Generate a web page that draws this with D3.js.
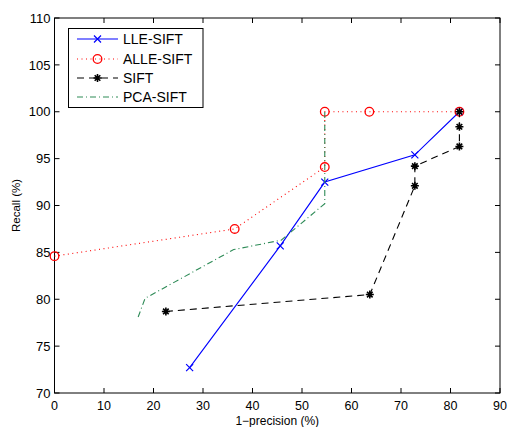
<!DOCTYPE html>
<html><head><meta charset="utf-8">
<script src="https://cdn.jsdelivr.net/npm/d3@7"></script>
<style>body{margin:0;background:#fff}svg{display:block}text{font-family:"Liberation Sans",Arial,sans-serif;}</style>
</head><body><svg id="c" width="509" height="427"></svg>
<script>
const xTicks = [0,10,20,30,40,50,60,70,80,90];
const yTicks = [70,75,80,85,90,95,100,105,110];
const seriesNames = ["LLE-SIFT","ALLE-SIFT","SIFT","PCA-SIFT"];
const lleX = [27.3,45.6,54.6,72.8,81.8];
const lleY = [72.7,85.7,92.5,95.4,100];
const alleX = [0,36.4,54.6,54.6,63.6,81.8];
const alleY = [84.6,87.5,94.1,100,100,100];
const siftX = [22.5,63.7,72.8,72.8,81.8,81.8,81.8];
const siftY = [78.7,80.5,92.1,94.2,96.3,98.4,100];
const pcaX = [16.9,18.3,36.2,45.8,54.6,54.6];
const pcaY = [78.1,80.1,85.3,86.3,90.2,100];

const svg = d3.select("#c");
const L=54.5,R=500,T=18,B=393;
const x = d3.scaleLinear().domain([0,90]).range([L,R]);
const y = d3.scaleLinear().domain([70,110]).range([B,T]);

svg.append("rect").attr("x",L).attr("y",T).attr("width",R-L).attr("height",B-T)
  .attr("fill","none").attr("stroke","#000").attr("stroke-width",1);
const tl=5;
const g = svg.append("g");
xTicks.forEach(t=>{
  g.append("line").attr("x1",x(t)).attr("x2",x(t)).attr("y1",B).attr("y2",B-tl).attr("stroke","#000");
  g.append("line").attr("x1",x(t)).attr("x2",x(t)).attr("y1",T).attr("y2",T+tl).attr("stroke","#000");
  g.append("text").attr("x",x(t)).attr("y",410).attr("text-anchor","middle").attr("font-size",12.5).text(t);
});
yTicks.forEach(t=>{
  g.append("line").attr("x1",L).attr("x2",L+tl).attr("y1",y(t)).attr("y2",y(t)).attr("stroke","#000");
  g.append("line").attr("x1",R).attr("x2",R-tl).attr("y1",y(t)).attr("y2",y(t)).attr("stroke","#000");
  g.append("text").attr("x",L-4).attr("y",y(t)+4.7).attr("text-anchor","end").attr("font-size",13).text(t);
});
svg.append("text").attr("x",x(45)).attr("y",424.5).attr("text-anchor","middle").attr("font-size",12).text("1\u2212precision (%)");
svg.append("text").attr("transform","translate(20,"+((T+B)/2)+") rotate(-90)").attr("text-anchor","middle").attr("font-size",11.5).text("Recall (%)");

const line = d3.line().x(d=>x(d[0])).y(d=>y(d[1]));
const zip=(a,b)=>a.map((v,i)=>[v,b[i]]);
const styles = [
  {xs:lleX,ys:lleY,color:"#0000ff",dash:null,marker:"x"},
  {xs:alleX,ys:alleY,color:"#ff0000",dash:"1,3.5",marker:"o"},
  {xs:siftX,ys:siftY,color:"#000000",dash:"7,5",marker:"*"},
  {xs:pcaX,ys:pcaY,color:"#2e8b57",dash:"6,3,1,3",marker:null}
];
function marker(sel,type,cx,cy,color){
  if(type==="x"){
    const s=3.5;
    sel.append("path").attr("d",`M${cx-s},${cy-s}L${cx+s},${cy+s}M${cx-s},${cy+s}L${cx+s},${cy-s}`).attr("stroke",color).attr("stroke-width",1.2).attr("fill","none");
  } else if(type==="o"){
    sel.append("circle").attr("cx",cx).attr("cy",cy).attr("r",4.3).attr("fill","none").attr("stroke",color).attr("stroke-width",1.3);
  } else if(type==="*"){
    const s=4, d=s*0.7;
    sel.append("path").attr("d",`M${cx-s},${cy}L${cx+s},${cy}M${cx},${cy-s}L${cx},${cy+s}M${cx-d},${cy-d}L${cx+d},${cy+d}M${cx-d},${cy+d}L${cx+d},${cy-d}`).attr("stroke",color).attr("stroke-width",1.6).attr("fill","none");
  }
}
const plot = svg.append("g");
styles.forEach(s=>{
  const pts = zip(s.xs,s.ys);
  plot.append("path").attr("d",line(pts)).attr("fill","none").attr("stroke",s.color)
    .attr("stroke-width",1.1).attr("stroke-dasharray",s.dash);
  if(s.marker) pts.forEach(p=>marker(plot,s.marker,x(p[0]),y(p[1]),s.color));
});

const lg = svg.append("g");
lg.append("rect").attr("x",68.5).attr("y",28.5).attr("width",134.5).attr("height",79).attr("fill","#fff").attr("stroke","#000").attr("stroke-width",1);
const ly=[39,59,78,97];
styles.forEach((s,i)=>{
  lg.append("line").attr("x1",77).attr("x2",118).attr("y1",ly[i]).attr("y2",ly[i]).attr("stroke",s.color).attr("stroke-width",1.1).attr("stroke-dasharray",s.dash);
  if(s.marker) marker(lg,s.marker,97.5,ly[i],s.color);
  lg.append("text").attr("x",123).attr("y",ly[i]+5).attr("font-size",14).text(seriesNames[i]);
});
</script></body></html>
